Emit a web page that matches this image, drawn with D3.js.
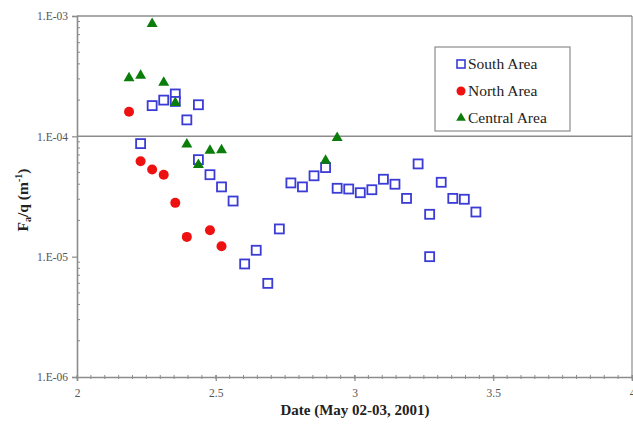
<!DOCTYPE html>
<html>
<head>
<meta charset="utf-8">
<script src="https://cdn.jsdelivr.net/npm/d3@7"></script>
<style>
  html, body { margin: 0; padding: 0; background: #fff; }
  svg { display: block; }
  text { font-family: "Liberation Serif", "DejaVu Serif", serif; }
</style>
</head>
<body>
<svg id="chart" width="633" height="425"></svg>
<script>
// Sampling times (day fraction, half-hour centred) and Fa/q values per area
const southDates = [2.2292, 2.2708, 2.3125, 2.3542, 2.3542, 2.3958, 2.4375, 2.4375, 2.4792, 2.5208, 2.5625,
  2.6042, 2.6458, 2.6875, 2.7292, 2.7708, 2.8125, 2.8542, 2.8958, 2.9375, 2.9792, 3.0208, 3.0625,
  3.1042, 3.1458, 3.1875, 3.2292, 3.2708, 3.2708, 3.3125, 3.3542, 3.3958, 3.4375];
const southValues = [8.7e-5, 1.8e-4, 2.0e-4, 2.25e-4, 1.95e-4, 1.37e-4, 1.83e-4, 6.4e-5, 4.8e-5, 3.8e-5, 2.9e-5,
  8.7e-6, 1.13e-5, 6.0e-6, 1.7e-5, 4.1e-5, 3.8e-5, 4.7e-5, 5.5e-5, 3.7e-5, 3.65e-5, 3.4e-5, 3.6e-5,
  4.4e-5, 4.0e-5, 3.05e-5, 5.9e-5, 2.25e-5, 1.0e-5, 4.15e-5, 3.05e-5, 3.0e-5, 2.35e-5];

const northDates = [2.1875, 2.2292, 2.2708, 2.3125, 2.3542, 2.3958, 2.4792, 2.5208];
const northValues = [1.6e-4, 6.2e-5, 5.3e-5, 4.8e-5, 2.8e-5, 1.46e-5, 1.66e-5, 1.22e-5];

const centralDates = [2.1875, 2.2292, 2.2708, 2.3125, 2.3542, 2.3958, 2.4375, 2.4792, 2.5208, 2.8958, 2.9375];
const centralValues = [3.05e-4, 3.2e-4, 8.6e-4, 2.8e-4, 1.9e-4, 8.6e-5, 5.8e-5, 7.6e-5, 7.7e-5, 6.3e-5, 9.7e-5];

const xTickValues = [2, 2.5, 3, 3.5, 4];
const xTickLabels = ["2", "2.5", "3", "3.5", "4"];
const yTickValues = [1e-6, 1e-5, 1e-4, 1e-3];
const yTickLabels = ["1.E-06", "1.E-05", "1.E-04", "1.E-03"];

const seriesNames = ["South Area", "North Area", "Central Area"];

const svg = d3.select("#chart");
const plotLeft = 77, plotRight = 632, plotTop = 16, plotBottom = 377;

const x = d3.scaleLinear().domain([2, 4]).range([plotLeft, plotRight]);
const y = d3.scaleLog().domain([1e-6, 1e-3]).range([plotBottom, plotTop]);

const gray = "#8c8c8c";
const blue = "#3b3bd6";
const red = "#ee1111";
const green = "#0b7d0b";

// plot frame: top and right edges, plus major gridline at 1E-04
svg.append("line").attr("x1", plotLeft).attr("x2", plotRight).attr("y1", y(1e-3)).attr("y2", y(1e-3))
  .attr("stroke", gray).attr("stroke-width", 1.5);
svg.append("line").attr("x1", plotRight).attr("x2", plotRight).attr("y1", plotTop).attr("y2", plotBottom)
  .attr("stroke", gray).attr("stroke-width", 1.2);
svg.append("line").attr("x1", plotLeft).attr("x2", plotRight).attr("y1", y(1e-4)).attr("y2", y(1e-4))
  .attr("stroke", gray).attr("stroke-width", 1.5);

// y axis: major ticks outward, log minor ticks inward
const yAxis = svg.append("g").attr("transform", `translate(${plotLeft},0)`);
yAxis.call(d3.axisLeft(y).tickValues(yTickValues)
  .tickFormat((d, i) => yTickLabels[i]).tickSize(5).tickPadding(4));
const yMinor = [];
for (let e = -6; e < -3; e++) for (let m = 2; m <= 9; m++) yMinor.push(m * Math.pow(10, e));
yAxis.selectAll(".minor").data(yMinor).enter().append("line").attr("class", "minor")
  .attr("x1", 0).attr("x2", 3).attr("y1", d => y(d)).attr("y2", d => y(d))
  .attr("stroke", gray).attr("stroke-width", 1);

// x axis: major and minor ticks crossing the axis line
const xAxis = svg.append("g").attr("transform", `translate(0,${plotBottom})`);
xAxis.call(d3.axisBottom(x).tickValues(xTickValues)
  .tickFormat((d, i) => xTickLabels[i]).tickSize(4).tickPadding(8));
const xMinor = d3.range(0, 41).map(i => 2 + i * 0.05);
xAxis.selectAll(".minor").data(xMinor).enter().append("line").attr("class", "minor")
  .attr("x1", d => x(d)).attr("x2", d => x(d)).attr("y1", -2).attr("y2", 2)
  .attr("stroke", gray).attr("stroke-width", 1);

[yAxis, xAxis].forEach(g => {
  g.select(".domain").attr("stroke", gray).attr("stroke-width", 1.6);
  g.selectAll(".tick line").attr("stroke", gray).attr("stroke-width", 1.2);
  g.selectAll(".tick text").attr("fill", "#555").attr("font-size", 11.5)
    .attr("font-family", "'Liberation Serif', serif");
});
xAxis.selectAll(".tick line").attr("y1", -2);

// markers
const sym = {
  square: (g, cx, cy) => g.append("rect").attr("x", cx - 4.5).attr("y", cy - 4.5)
    .attr("width", 9).attr("height", 9).attr("fill", "#fff").attr("stroke", blue).attr("stroke-width", 1.8),
  circle: (g, cx, cy) => g.append("circle").attr("cx", cx).attr("cy", cy).attr("r", 5).attr("fill", red),
  triangle: (g, cx, cy) => g.append("path")
    .attr("d", d3.symbol().type(d3.symbolTriangle).size(52)())
    .attr("transform", `translate(${cx},${cy})`).attr("fill", green)
};

const marks = svg.append("g");
southDates.forEach((d, i) => sym.square(marks, x(d), y(southValues[i])));
northDates.forEach((d, i) => sym.circle(marks, x(d), y(northValues[i])));
centralDates.forEach((d, i) => sym.triangle(marks, x(d), y(centralValues[i])));

// legend
const lg = svg.append("g").attr("transform", "translate(435,47)");
lg.append("rect").attr("width", 135).attr("height", 84).attr("fill", "#fff")
  .attr("stroke", gray).attr("stroke-width", 1.2);
const shapes = ["square", "circle", "triangle"];
seriesNames.forEach((name, i) => {
  const cy = 17 + i * 27;
  if (shapes[i] === "square") {
    lg.append("rect").attr("x", 22).attr("y", cy - 4).attr("width", 8).attr("height", 8)
      .attr("fill", "#fff").attr("stroke", blue).attr("stroke-width", 1.6);
  } else if (shapes[i] === "circle") {
    lg.append("circle").attr("cx", 26).attr("cy", cy).attr("r", 4.5).attr("fill", red);
  } else {
    lg.append("path").attr("d", d3.symbol().type(d3.symbolTriangle).size(40)())
      .attr("transform", `translate(26,${cy})`).attr("fill", green);
  }
  lg.append("text").attr("x", 33).attr("y", cy + 5).attr("font-size", 15.5)
    .attr("fill", "#222").text(name);
});

// axis titles
svg.append("text").attr("x", 355).attr("y", 415).attr("text-anchor", "middle")
  .attr("font-weight", "bold").attr("font-size", 15).attr("fill", "#222")
  .text("Date (May 02-03, 2001)");

const yt = svg.append("text").attr("transform", "translate(28,200) rotate(-90)")
  .attr("text-anchor", "middle").attr("font-weight", "bold").attr("font-size", 15.5).attr("fill", "#222");
yt.append("tspan").text("F");
yt.append("tspan").attr("font-size", 10).attr("dy", 3).text("a");
yt.append("tspan").attr("dy", -3).text("/q (m");
yt.append("tspan").attr("font-size", 10).attr("dy", -6).text("-1");
yt.append("tspan").attr("dy", 6).text(")");
</script>
</body>
</html>
